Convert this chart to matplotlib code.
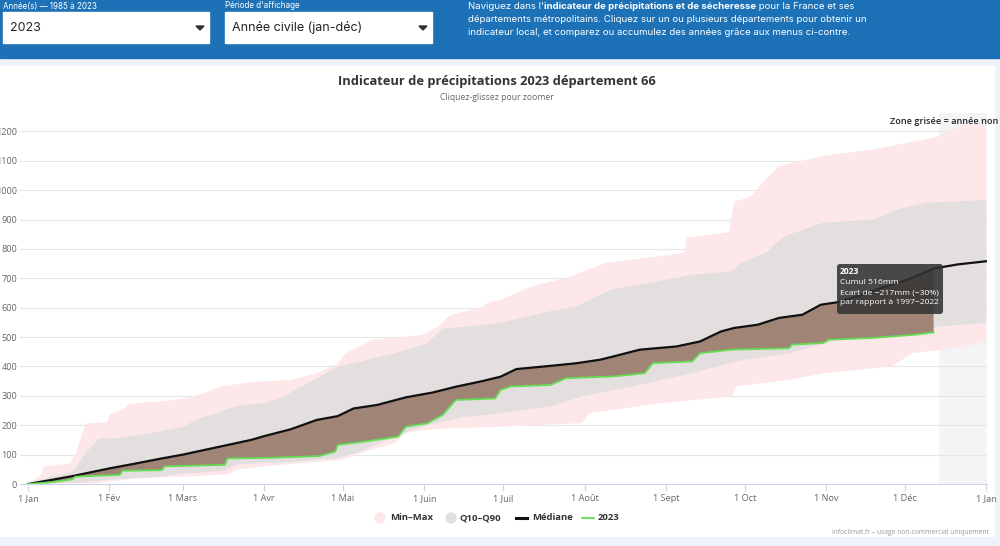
import matplotlib.pyplot as plt
from matplotlib.patches import Rectangle, FancyBboxPatch, Polygon, Circle
import numpy as np

# cumulative precipitation (mm) by day of year
max_days = [0, 5, 6, 16, 18, 22, 30, 31, 37, 38, 55, 60, 67, 73, 86, 100, 110, 118, 121, 131,
            150, 156, 161, 173, 176, 180, 192, 205, 220, 235, 250, 251, 267, 269, 275, 281,
            286, 303, 322, 342, 347, 359, 365]
max_vals = [0, 30, 60, 70, 100, 206, 210, 235, 260, 272, 285, 292, 309, 331, 348, 354, 376, 410,
            444, 490, 507, 535, 575, 603, 620, 626, 673, 701, 752, 769, 786, 838, 857, 962, 975,
            1036, 1082, 1116, 1139, 1173, 1184, 1230, 1240]

min_days = [0, 25, 41, 59, 76, 80, 92, 105, 120, 125, 130, 140, 144, 156, 180, 211, 214, 241,
            268, 270, 290, 303, 329, 335, 337, 358, 362, 365]
min_vals = [0, 2, 19, 25, 33, 50, 62, 72, 82, 100, 115, 140, 175, 188, 195, 207, 241, 275,
            298, 332, 355, 377, 400, 434, 445, 468, 480, 482]

q90_days = [0, 9, 17, 22, 27, 35, 51, 59, 66, 72, 79, 90, 96, 104, 110, 118, 129, 142, 152,
            158, 173, 180, 199, 209, 222, 237, 253, 268, 271, 281, 288, 303, 322, 331, 342, 365]
q90_vals = [0, 25, 42, 105, 155, 156, 180, 195, 225, 240, 265, 275, 291, 331, 359, 399, 422,
            450, 478, 529, 541, 549, 588, 605, 661, 684, 712, 724, 748, 786, 843, 889, 900, 934,
            957, 966]

q10_days = [0, 20, 31, 50, 59, 75, 80, 100, 118, 125, 142, 152, 166, 180, 199, 211, 230, 253,
            271, 290, 309, 335, 347, 365]
q10_vals = [0, 5, 15, 25, 35, 45, 68, 75, 88, 105, 170, 200, 228, 241, 264, 298, 332, 377, 420,
            445, 491, 514, 536, 548]

med_days = [0, 9, 17, 31, 40, 51, 59, 73, 85, 90, 100, 110, 118, 124, 133, 144, 154, 163, 173,
            180, 186, 199, 209, 218, 223, 233, 247, 256, 264, 269, 278, 286, 295, 302, 308, 316,
            325, 335, 345, 354, 365]
med_vals = [0, 14, 27, 53, 68, 87, 100, 127, 150, 163, 186, 218, 231, 257, 269, 295, 311, 331,
            350, 365, 391, 402, 411, 423, 434, 457, 468, 485, 519, 531, 542, 565, 576, 610, 618,
            639, 667, 695, 733, 747, 758]

y2023_days = [0, 10, 17, 18, 35, 36, 51, 52, 75, 76, 92, 111, 117, 118, 128, 141, 144, 152,
              158, 163, 178, 180, 184, 199, 205, 223, 235, 238, 253, 256, 268, 290, 291, 303,
              305, 322, 338, 345]
y2023_vals = [0, 7, 16, 25, 31, 45, 47, 60, 65, 87, 89, 95, 110, 133, 144, 161, 195, 206, 235,
              286, 291, 320, 332, 337, 360, 366, 377, 411, 417, 445, 457, 462, 474, 480, 491,
              497, 508, 516]

month_days = [0, 31, 59, 90, 120, 151, 181, 212, 243, 273, 304, 334, 365]
month_labels = ['1 Jan', '1 Fév', '1 Mars', '1 Avr', '1 Mai', '1 Juin', '1 Juil', '1 Août',
                '1 Sept', '1 Oct', '1 Nov', '1 Déc', '1 Jan']
y_ticks = list(range(0, 1300, 100))
incomplete_from = 347

c_minmax = '#fde7e9'
c_q = '#e3dfdf'
c_brown = '#a08476'
c_green = '#66dd55'
c_blue = '#1c71b7'

fig = plt.figure(figsize=(10, 5.46), dpi=100)

# page background in pixel coordinates
bg = fig.add_axes([0, 0, 1, 1])
bg.set_xlim(0, 1000)
bg.set_ylim(546, 0)
bg.axis('off')
bg.add_patch(Rectangle((0, 0), 1000, 546, color='#eef3fb'))
bg.add_patch(Rectangle((0, 0), 1000, 58, color=c_blue))
bg.add_patch(Rectangle((0, 66), 994, 470, color='white'))

# header controls
bg.text(3, 6, 'Année(s) — 1985 à 2023', color='white', fontsize=5.8, family='Inter', va='center')
bg.text(225, 6, "Période d'affichage", color='white', fontsize=5.8, family='Inter', va='center')
for x0, w, label in [(3, 206, '2023'), (225, 207, 'Année civile (jan-déc)')]:
    bg.add_patch(Rectangle((x0, 12), w, 31, color='white'))
    bg.text(x0 + 7, 28, label, color='#222222', fontsize=9, family='Inter', va='center')
    tx = x0 + w - 9
    bg.add_patch(Polygon([(tx - 4, 26), (tx + 4, 26), (tx, 30)], color='#333333'))

lines = [[("Naviguez dans l'", 'normal'), ('indicateur de précipitations et de sécheresse', 'bold'),
          (' pour la France et ses', 'normal')],
         [('départements métropolitains. Cliquez sur un ou plusieurs départements pour obtenir un', 'normal')],
         [('indicateur local, et comparez ou accumulez des années grâce aux menus ci-contre.', 'normal')]]
for i, parts in enumerate(lines):
    prev = None
    for txt, wt in parts:
        if prev is None:
            prev = bg.text(468, 11 + i * 12.8, txt, color='white', fontsize=6.95, family='Inter',
                           weight=wt, va='bottom')
        else:
            prev = bg.annotate(txt, xy=(1, 0), xycoords=prev, color='white', fontsize=6.95,
                               family='Inter', weight=wt, va='bottom')

# chart titles
bg.text(497, 81, 'Indicateur de précipitations 2023 département 66', ha='center', va='center',
        fontsize=9.3, weight='bold', color='#333333', family='Open Sans')
bg.text(497, 98, 'Cliquez-glissez pour zoomer', ha='center', va='center',
        fontsize=6.2, color='#666666', family='Open Sans')

# main chart
ax = fig.add_axes([20 / 1000, 62 / 546, 967 / 1000, 360 / 546])
ax.set_facecolor('none')
ax.set_xlim(-8 / 2.625, 365.33)
ax.set_ylim(0, 1225)

ax.axvspan(incomplete_from, 365.33, ymax=1.03, color='#f4f4f7', clip_on=False, zorder=0, lw=0)

ax.fill(max_days + min_days[::-1], max_vals + min_vals[::-1], color=c_minmax, lw=0, zorder=2)
ax.fill(q90_days + q10_days[::-1], q90_vals + q10_vals[::-1], color=c_q, lw=0, zorder=3)

med_cut_d = [d for d in med_days if d <= y2023_days[-1]]
med_cut_v = med_vals[:len(med_cut_d)]
ax.fill(med_cut_d + y2023_days[::-1], med_cut_v + y2023_vals[::-1], color=c_brown, lw=0, zorder=4)
ax.plot(med_days, med_vals, color='#111111', lw=1.6, zorder=5)
ax.plot(y2023_days, y2023_vals, color=c_green, lw=1.3, zorder=6)

ax.set_yticks(y_ticks)
ax.set_yticklabels([str(v) for v in y_ticks])
ax.set_xticks(month_days)
ax.set_xticklabels(month_labels)
ax.grid(axis='y', color='#e6e6e6', lw=0.8, zorder=1)
ax.set_axisbelow(True)
for s in ['top', 'right', 'left']:
    ax.spines[s].set_visible(False)
ax.spines['bottom'].set_color('#ccd6eb')
ax.spines['bottom'].set_zorder(7)
ax.tick_params(axis='y', length=0, pad=2, labelsize=6.6, labelcolor='#666666')
ax.tick_params(axis='x', length=5, width=0.8, color='#ccd6eb', pad=2, labelsize=6.6,
               labelcolor='#666666')
for lab in ax.get_xticklabels() + ax.get_yticklabels():
    lab.set_family('Open Sans')

# overlay: tooltip, legend, notes
top = fig.add_axes([0, 0, 1, 1], zorder=10)
top.set_xlim(0, 1000)
top.set_ylim(546, 0)
top.axis('off')
top.text(890, 121, 'Zone grisée = année non complète', fontsize=6.6, color='#222222',
         family='Open Sans', weight='semibold', va='center')
top.add_patch(FancyBboxPatch((837, 264), 106, 50, boxstyle='round,pad=0,rounding_size=3',
                             facecolor='#333333', edgecolor='none', alpha=0.88))
tip = [('2023', 'bold'), ('Cumul 516mm', 'normal'), ('Ecart de −217mm (−30%)', 'normal'),
       ('par rapport à 1997−2022', 'normal')]
for i, (txt, wt) in enumerate(tip):
    top.text(840, 272 + i * 10.3, txt, color='white', fontsize=6.1, weight=wt,
             family='Open Sans', va='center')

ly = 518
top.add_patch(Circle((380, ly), 5, color=c_minmax))
top.add_patch(Circle((451, ly), 5, color=c_q))
top.plot([516, 527], [ly, ly], color='#111111', lw=2.2)
top.plot([582, 594], [ly, ly], color=c_green, lw=1.3)
for x0, txt in [(390, 'Min–Max'), (459, 'Q10–Q90'), (532, 'Médiane'), (598, '2023')]:
    top.text(x0, ly, txt, fontsize=6.8, weight='bold', color='#333333', family='Open Sans',
             va='center')
top.text(989, 532, 'infoclimat.fr – usage non-commercial uniquement', fontsize=4.9,
         color='#999999', family='Open Sans', ha='right', va='center')

fig.savefig('out.png', dpi=100)
